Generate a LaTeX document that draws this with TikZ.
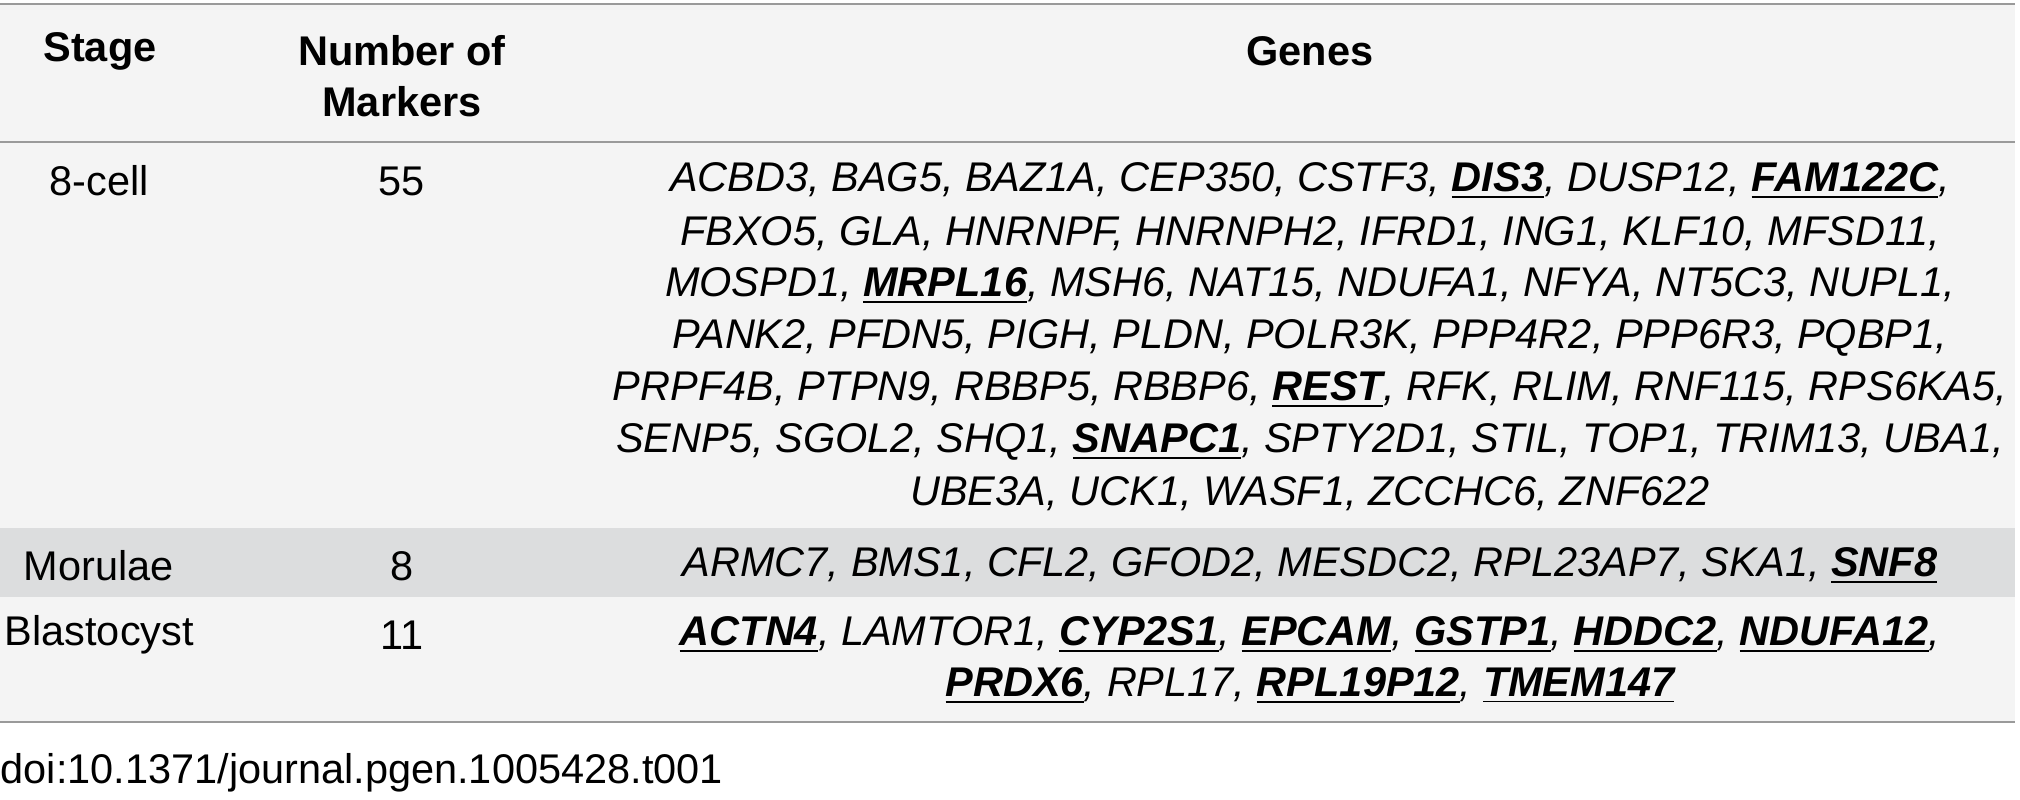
\documentclass[tikz,border=0pt]{standalone}
\usepackage{fontspec}
\setmainfont{Liberation Sans}
\usetikzlibrary{positioning}
\definecolor{tablebg}{HTML}{F4F4F4}
\definecolor{bandbg}{HTML}{DCDDDE}
\definecolor{rulegray}{HTML}{9A9A9A}
\newcommand{\gb}[1]{\underline{\textbf{#1}}}
\tikzset{
	cell/.style={inner sep=0pt, font=\fontsize{11.8}{13}\selectfont},
	head/.style={cell, font=\fontsize{11.8}{14.5}\selectfont\bfseries, align=center},
	genes/.style={cell, font=\fontsize{11.8}{13}\selectfont\itshape},
	rulel/.style={rulegray, line width=0.8pt}
}
\begin{document}
\begin{tikzpicture}[x=0.01cm,y=-0.01cm]
	\useasboundingbox (0,0) rectangle (2020,800);
	\fill[tablebg] (0,4) rectangle (2015,722);
	\fill[bandbg] (0,528) rectangle (2015,597);
	\draw[rulel] (0,4) -- (2015,4);
	\draw[rulel] (0,142) -- (2015,142);
	\draw[rulel] (0,722) -- (2015,722);
	% header
	\node[head] (stage) at (100,51) {Stage};
	\node[head] (nmark) at (402,76) {Number of\\Markers};
	\node[head] (genes) at (1310,51) {Genes};
	% 8-cell
	\node[cell, anchor=west] (c8) at (49,181) {8-cell};
	\node[cell] (n8) at (402,181) {55};
	\node[genes] (g1) at (1310,181) {ACBD3, BAG5, BAZ1A, CEP350, CSTF3, \gb{DIS3}, DUSP12, \gb{FAM122C},};
	\node[genes] (g2) at (1310,234) {FBXO5, GLA, HNRNPF, HNRNPH2, IFRD1, ING1, KLF10, MFSD11,};
	\node[genes] (g3) at (1310,286) {MOSPD1, \gb{MRPL16}, MSH6, NAT15, NDUFA1, NFYA, NT5C3, NUPL1,};
	\node[genes] (g4) at (1310,338) {PANK2, PFDN5, PIGH, PLDN, POLR3K, PPP4R2, PPP6R3, PQBP1,};
	\node[genes] (g5) at (1310,390) {PRPF4B, PTPN9, RBBP5, RBBP6, \gb{REST}, RFK, RLIM, RNF115, RPS6KA5,};
	\node[genes] (g6) at (1310,442) {SENP5, SGOL2, SHQ1, \gb{SNAPC1}, SPTY2D1, STIL, TOP1, TRIM13, UBA1,};
	\node[genes] (g7) at (1310,494) {UBE3A, UCK1, WASF1, ZCCHC6, ZNF622};
	% morulae
	\node[cell, anchor=west] (cm) at (23,566) {Morulae};
	\node[cell] (nm) at (402,566) {8};
	\node[genes] (gm) at (1310,566) {ARMC7, BMS1, CFL2, GFOD2, MESDC2, RPL23AP7, SKA1, \gb{SNF8}};
	% blastocyst
	\node[cell, anchor=west] (cb) at (4,635) {Blastocyst};
	\node[cell] (nb) at (402,635) {11};
	\node[genes] (gb1) at (1310,635) {\gb{ACTN4}, LAMTOR1, \gb{CYP2S1}, \gb{EPCAM}, \gb{GSTP1}, \gb{HDDC2}, \gb{NDUFA12},};
	\node[genes] (gb2) at (1310,686) {\gb{PRDX6}, RPL17, \gb{RPL19P12}, \gb{TMEM147}};
	% doi
	\node[cell, anchor=west] (doi) at (0,773) {doi:10.1371/journal.pgen.1005428.t001};
\end{tikzpicture}
\end{document}
